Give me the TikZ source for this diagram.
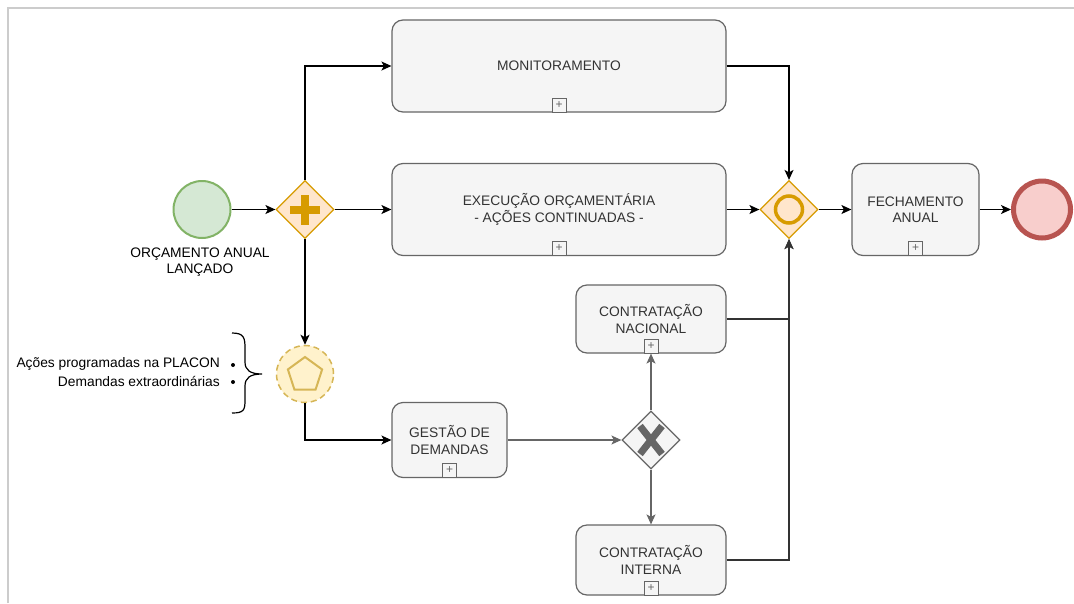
\documentclass[tikz,border=0pt]{standalone}
\usepackage{fontspec}
\setmainfont{Liberation Sans}
\usetikzlibrary{arrows.meta,shapes.geometric}
\definecolor{taskfill}{HTML}{F5F5F5}
\definecolor{taskdraw}{HTML}{666666}
\definecolor{txt}{HTML}{333333}
\definecolor{gfill}{HTML}{D5E8D4}
\definecolor{gdraw}{HTML}{82B366}
\definecolor{ofill}{HTML}{FFE6CC}
\definecolor{odraw}{HTML}{D79B00}
\definecolor{rfill}{HTML}{F8CECC}
\definecolor{rdraw}{HTML}{B85450}
\definecolor{yfill}{HTML}{FFF2CC}
\definecolor{ydraw}{HTML}{D6B656}
\definecolor{frame}{HTML}{CCCCCC}
\tikzset{
  task/.style={draw=taskdraw, fill=taskfill, rounded corners=11pt, line width=1.2pt, align=center, text=txt, font=\fontsize{13.8}{16.5}\selectfont, inner sep=0pt},
  marker/.style={draw=taskdraw, fill=taskfill, line width=0.8pt, minimum size=14pt, inner sep=0pt, text=taskdraw, font=\fontsize{12}{12}\selectfont},
  gate/.style={diamond, aspect=1, minimum size=58pt, inner sep=0pt, line width=1.2pt},
  arr/.style={-{Stealth[length=10pt,width=9pt,inset=2.5pt]}, line width=1.2pt},
  garr/.style={arr, draw=taskdraw},
  darr/.style={arr, draw=txt},
}
\begin{document}
\begin{tikzpicture}[x=1pt,y=-1pt]
\useasboundingbox (0,0) rectangle (1074,603);
\fill[white] (0,0) rectangle (1074,603);
\draw[frame, line width=2pt] (8,603) -- (8,8) -- (1074,8);

% start event
\node[circle, draw=gdraw, fill=gfill, line width=2pt, minimum size=57pt, inner sep=0pt] (start) at (202,209.5) {};
\node[align=center, font=\fontsize{13.8}{16.5}\selectfont] (startlbl) at (200,262) {ORÇAMENTO ANUAL\\LANÇADO};

% parallel gateway
\node[gate, draw=odraw, fill=ofill] (pg) at (305,209.5) {};
\fill[odraw] (290,205.5) rectangle (320,213.5);
\fill[odraw] (301,194.5) rectangle (309,224.5);

% tasks
\node[task, minimum width=334pt, minimum height=92pt] (mon) at (559,66) {MONITORAMENTO};
\node[marker] (monm) at (559,105) {+};
\node[task, minimum width=334pt, minimum height=92pt] (exe) at (559,209.5) {EXECUÇÃO ORÇAMENTÁRIA\\- AÇÕES CONTINUADAS -};
\node[marker] (exem) at (559,248.5) {+};
\node[task, minimum width=127pt, minimum height=92pt] (fec) at (915.5,209.5) {FECHAMENTO\\ANUAL};
\node[marker] (fecm) at (915.5,248.5) {+};
\node[task, minimum width=115pt, minimum height=75pt] (ges) at (449.5,440) {GESTÃO DE\\DEMANDAS};
\node[marker] (gesm) at (449.5,470) {+};
\node[task, minimum width=150pt, minimum height=68pt] (nac) at (651,319) {CONTRATAÇÃO\\NACIONAL};
\node[marker] (nacm) at (651,346) {+};
\node[task, minimum width=150pt, minimum height=70pt] (int) at (651,560) {CONTRATAÇÃO\\INTERNA};
\node[marker] (intm) at (651,588) {+};

% inclusive gateway
\node[gate, draw=odraw, fill=ofill] (ig) at (789,209.5) {};
\draw[odraw, line width=3.5pt] (ig.center) circle (13.5);

% end event
\node[circle, draw=rdraw, fill=rfill, line width=5pt, minimum size=57pt, inner sep=0pt] (end) at (1042,209.5) {};

% intermediate (multiple) event
\node[circle, draw=ydraw, fill=yfill, line width=1.5pt, dash pattern=on 6pt off 4pt, minimum size=57pt, inner sep=0pt] (ev) at (305,374) {};
\node[regular polygon, regular polygon sides=5, draw=ydraw, line width=2pt, minimum size=36pt, inner sep=0pt] (pent) at (305,375) {};

% exclusive gateway
\node[gate, draw=taskdraw, fill=taskfill] (xg) at (651,440) {};
\draw[taskdraw, line width=7pt] (640,426) -- (662,454) (662,426) -- (640,454);

% brace and bullets
\draw[line width=1.2pt] (232,333) .. controls (244,333) and (245,338) .. (245,348) -- (245,362) .. controls (245,370) and (250,374) .. (262,374) .. controls (250,374) and (245,378) .. (245,386) -- (245,400) .. controls (245,410) and (244,413) .. (232,413);
\node[anchor=east, font=\fontsize{13.8}{16}\selectfont, inner sep=0pt] (b1) at (220,364) {Ações programadas na PLACON};
\node[anchor=east, font=\fontsize{13.8}{16}\selectfont, inner sep=0pt] (b2) at (220,381) {Demandas extraordinárias};
\fill (233,365) circle (2);
\fill (233,382) circle (2);

% connectors
\draw[arr] (start) -- (pg);
\draw[arr] (pg.north) |- (mon.west);
\draw[arr] (pg.east) -- (exe.west);
\draw[arr] (pg.south) -- (ev.north);
\draw[arr] (mon.east) -| (ig.north);
\draw[arr] (exe.east) -- (ig.west);
\draw[arr] (ig.east) -- (fec.west);
\draw[arr] (fec.east) -- (end.west);
\draw[arr] (ev.south) |- (ges.west);
\draw[garr] (ges.east) -- (xg.west);
\draw[garr] (xg.north) -- (nac.south);
\draw[garr] (xg.south) -- (int.north);
\draw[darr] (nac.east) -| (ig.south);
\draw[darr] (int.east) -| (ig.south);
\end{tikzpicture}
\end{document}
